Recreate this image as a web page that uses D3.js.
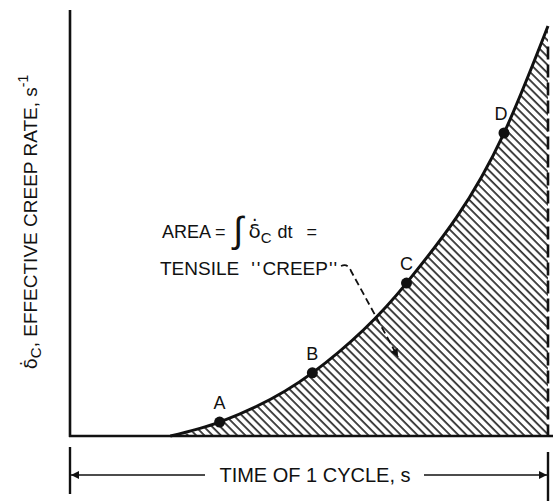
<!DOCTYPE html>
<html>
<head>
<meta charset="utf-8">
<script src="https://cdn.jsdelivr.net/npm/d3@7"></script>
<style>
  html, body { margin: 0; padding: 0; background: #fff; }
  svg text { font-family: "Liberation Sans", Arial, sans-serif; fill: #111; }
  svg tspan.greek { font-family: "DejaVu Sans", sans-serif; }
</style>
</head>
<body>
<svg id="creep" width="553" height="501"></svg>
<script>
// curve of effective creep rate over one cycle (normalised units)
var timeVals = [0, 0.21, 0.313, 0.507, 0.704, 0.908, 1.0];
var rateVals = [0, 0, 0.034, 0.154, 0.373, 0.739, 1.0];

// labelled points on the curve
var pointNames = ["A", "B", "C", "D"];
var pointTime  = [0.313, 0.507, 0.704, 0.908];
var pointRate  = [0.034, 0.154, 0.373, 0.739];

var xLabel = "TIME OF 1 CYCLE, s";

var svg = d3.select("#creep");

var margin = {top: 26, right: 4, bottom: 65, left: 70},
    width  = 553 - margin.left - margin.right,
    height = 501 - margin.top - margin.bottom;

var x = d3.scaleLinear().domain([0, 1]).range([margin.left, margin.left + width - 1]),
    y = d3.scaleLinear().domain([0, 1]).range([margin.top + height, margin.top]);

var curveData = timeVals.map(function(t, i) { return {t: t, r: rateVals[i]}; });

/* hatch pattern */
var defs = svg.append("defs");
var pat = defs.append("pattern")
    .attr("id", "hatch")
    .attr("patternUnits", "userSpaceOnUse")
    .attr("width", 8).attr("height", 5.8)
    .attr("patternTransform", "rotate(45)");
pat.append("rect")
    .attr("x", 0).attr("y", 0)
    .attr("width", 8).attr("height", 1.8)
    .style("fill", "#333");

defs.append("marker")
    .attr("id", "arrowhead")
    .attr("viewBox", "0 0 10 10")
    .attr("refX", 10).attr("refY", 5)
    .attr("markerWidth", 14).attr("markerHeight", 8)
    .attr("markerUnits", "userSpaceOnUse")
    .attr("orient", "auto")
  .append("path")
    .attr("d", "M0,0 L10,5 L0,10 Z")
    .style("fill", "#111");

var area = d3.area()
    .x(function(d) { return x(d.t); })
    .y0(y(0))
    .y1(function(d) { return y(d.r); })
    .curve(d3.curveMonotoneX);

var line = d3.line()
    .x(function(d) { return x(d.t); })
    .y(function(d) { return y(d.r); })
    .curve(d3.curveMonotoneX);

svg.append("path")
    .datum(curveData)
    .attr("d", area)
    .style("fill", "url(#hatch)");

// axes (plain lines, no ticks)
svg.append("line")
    .attr("x1", x(0)).attr("x2", x(0))
    .attr("y1", 10).attr("y2", y(0) + 1)
    .style("stroke", "#111").style("stroke-width", 2.6);

svg.append("line")
    .attr("x1", x(0) - 1).attr("x2", 553)
    .attr("y1", y(0)).attr("y2", y(0))
    .style("stroke", "#111").style("stroke-width", 2.6);

// dashed right edge (end of cycle)
svg.append("line")
    .attr("x1", x(1)).attr("x2", x(1))
    .attr("y1", y(0.95)).attr("y2", y(0))
    .style("stroke", "#111").style("stroke-width", 2.6)
    .style("stroke-dasharray", "13,5");

svg.append("path")
    .datum(curveData.slice(1))
    .attr("d", line)
    .style("fill", "none")
    .style("stroke", "#111")
    .style("stroke-width", 3);

// labelled points
for (let i = 0; i < pointNames.length; i++) {
    svg.append("circle")
        .attr("cx", x(pointTime[i]))
        .attr("cy", y(pointRate[i]))
        .attr("r", 5.5)
        .style("fill", "#111");
    svg.append("text")
        .attr("x", x(pointTime[i]) - (i == 3 ? 3 : 0))
        .attr("y", y(pointRate[i]) - 13)
        .style("font-size", "18px")
        .style("text-anchor", "middle")
        .text(pointNames[i]);
}

// y axis title
var yTitle = svg.append("text")
    .attr("transform", "translate(37," + 222 + ") rotate(-90)")
    .style("font-size", "19px")
    .style("text-anchor", "middle");
yTitle.append("tspan").attr("class", "greek").style("font-size", "18px").text("\u03B4\u0307");
yTitle.append("tspan").attr("dy", 4).style("font-size", "15px").text("C");
yTitle.append("tspan").attr("dy", -4).text(",  EFFECTIVE CREEP RATE,  s");
yTitle.append("tspan").attr("dy", -9).style("font-size", "14px").text("-1");

// time-of-cycle dimension arrow
var dimY = 475;
svg.append("line")
    .attr("x1", x(0)).attr("x2", x(0))
    .attr("y1", 447).attr("y2", 494)
    .style("stroke", "#111").style("stroke-width", 2.4);
svg.append("line")
    .attr("x1", x(1)).attr("x2", x(1))
    .attr("y1", 452).attr("y2", 501)
    .style("stroke", "#111").style("stroke-width", 2.4);

svg.append("line")
    .attr("x1", 205).attr("x2", x(0) + 1)
    .attr("y1", dimY).attr("y2", dimY)
    .style("stroke", "#111").style("stroke-width", 1.6)
    .attr("marker-end", "url(#arrowhead)");
svg.append("line")
    .attr("x1", 424).attr("x2", x(1) - 1)
    .attr("y1", dimY).attr("y2", dimY)
    .style("stroke", "#111").style("stroke-width", 1.6)
    .attr("marker-end", "url(#arrowhead)");

svg.append("text")
    .attr("x", 315)
    .attr("y", dimY + 7)
    .style("font-size", "20px")
    .style("text-anchor", "middle")
    .text(xLabel);

// area annotation
var ann = svg.append("text")
    .attr("x", 162)
    .attr("y", 238)
    .style("font-size", "18px");
ann.append("tspan").text("AREA =");
ann.append("tspan").attr("dx", 8).attr("dy", 4).style("font-size", "36px").style("font-style", "italic").text("\u222B");
ann.append("tspan").attr("class", "greek").attr("dx", 5).attr("dy", -4).style("font-size", "20px").text("\u03B4\u0307");
ann.append("tspan").attr("dy", 5).style("font-size", "15px").text("C");
ann.append("tspan").attr("dx", 6).attr("dy", -5).text("dt");
ann.append("tspan").attr("dx", 14).text("=");

var ann2 = svg.append("text")
    .attr("x", 160)
    .attr("y", 275)
    .style("font-size", "19px");
ann2.append("tspan").text("TENSILE");
ann2.append("tspan").attr("dx", 12).style("letter-spacing", "2px").text("''");
ann2.append("tspan").text("CREEP");
ann2.append("tspan").attr("dx", 1).style("letter-spacing", "1px").text("''");

// dashed leader into the hatched area
svg.append("path")
    .attr("d", "M341,266 Q348,263 351,271 L398,357")
    .style("fill", "none")
    .style("stroke", "#111")
    .style("stroke-width", 1.8)
    .style("stroke-dasharray", "7,4")
    .attr("marker-end", "url(#arrowhead)");
</script>
</body>
</html>
